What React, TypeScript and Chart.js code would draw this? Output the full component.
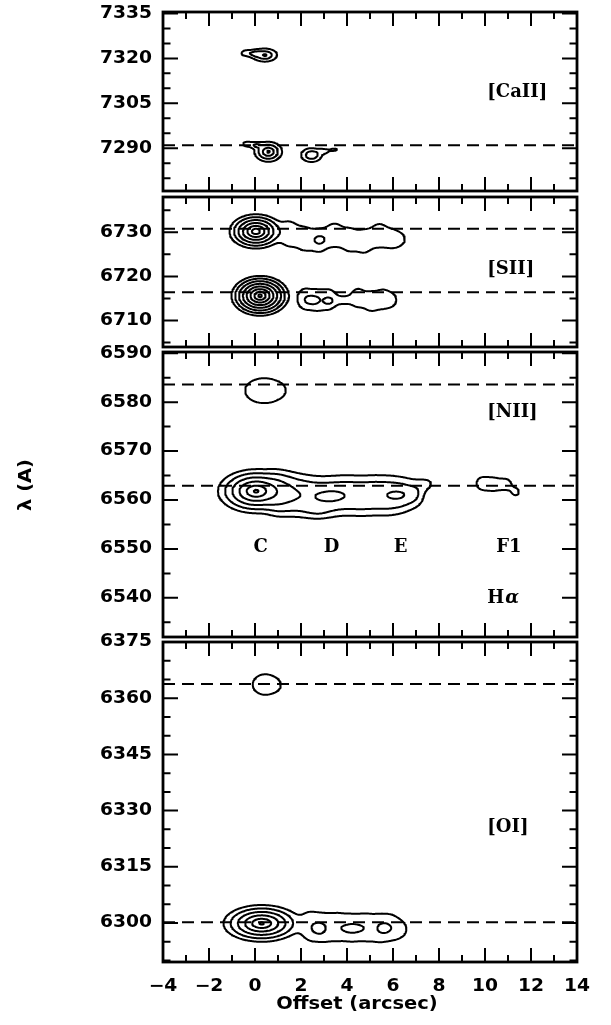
import React, { useEffect, useRef } from "react";
import { Chart, registerables } from "chart.js";
Chart.register(...registerables);

// ---------- data ----------
const xMin = -4;
const xMax = 14;
const xMajorTicks = [-4, -2, 0, 2, 4, 6, 8, 10, 12, 14];
const xTickText = ["−4", "−2", "0", "2", "4", "6", "8", "10", "12", "14"];
const xTitle = "Offset (arcsec)";
const xTitleAt = 4.43;
const yTitle = "λ (A)";

const panelYMin = [7275.7, 6704, 6532, 6289.6];
const panelYMax = [7335.5, 6738, 6590.25, 6375];
const panelYMajorStep = [15, 10, 10, 15];
const panelYMinorStep = [5, 5, 5, 5];
const panelRestLines = [[7291.0], [6730.8, 6716.4], [6583.6, 6562.9], [6363.8, 6300.2]];
const panelNames = ["[CaII]", "[SII]", "[NII]", "[OI]"];
const panelNameX = [10.1, 10.1, 10.1, 10.1];
const panelNameY = [7308.8, 6721.7, 6578.0, 6325.6];

const knotLabels = ["C", "D", "E", "F1"];
const knotLabelX = [0.25, 3.33, 6.33, 11.04];
const knotLabelY = 6550.3;
const haLabelX = 10.1;
const haLabelY = 6540;

const contourLevels = [1, 2, 4, 8, 16, 32, 64, 128];

// emission components: [xStart, xEnd, lambda, widthX, widthY, amplitude, profile exponent]
const caiiBlobs = [
  [-0.4, -0.4, 7321.8, 0.25, 1.1, 1.3, 2],
  [0.0, 0.0, 7321.6, 0.25, 1.1, 1.3, 2],
  [0.43, 0.43, 7321.1, 0.33, 1.35, 5, 1],
  [-0.35, -0.35, 7291.4, 0.25, 1.0, 1.4, 2],
  [0.05, 0.05, 7291.0, 0.25, 1.0, 1.4, 2],
  [0.58, 0.58, 7288.8, 0.26, 1.45, 10, 1],
  [2.46, 2.46, 7287.7, 0.45, 2.3, 2.7, 2],
  [3.0, 3.0, 7289.0, 0.25, 0.9, 1.3, 2],
  [3.45, 3.45, 7289.5, 0.25, 0.8, 1.2, 2],
];
const siiBlobs = [
  [0.04, 0.04, 6730.2, 0.28, 0.95, 60, 1],
  [1.5, 1.5, 6729.6, 0.42, 3.4, 1.55, 2],
  [2.15, 2.15, 6728.5, 0.42, 3.4, 1.55, 2],
  [2.8, 2.8, 6728.1, 0.42, 3.4, 1.55, 2],
  [3.45, 3.45, 6729.5, 0.42, 3.4, 1.55, 2],
  [4.1, 4.1, 6728.3, 0.42, 3.4, 1.55, 2],
  [4.75, 4.75, 6727.9, 0.42, 3.4, 1.55, 2],
  [5.4, 5.4, 6729.4, 0.42, 3.4, 1.55, 2],
  [6.0, 6.0, 6728.5, 0.42, 2.8, 1.5, 2],
  [6.35, 6.35, 6728.4, 0.3, 1.6, 0.9, 2],
  [2.83, 2.83, 6728.3, 0.3, 1.2, 0.5, 2],
  [0.22, 0.22, 6715.6, 0.24, 0.87, 180, 1],
  [2.15, 2.15, 6714.9, 0.38, 3.1, 1.5, 2],
  [2.7, 2.7, 6714.6, 0.38, 3.1, 1.5, 2],
  [3.25, 3.25, 6714.8, 0.38, 3.1, 1.5, 2],
  [3.85, 3.85, 6714.6, 0.38, 1.5, 1.1, 2],
  [4.45, 4.45, 6715.2, 0.38, 2.9, 1.5, 2],
  [5.05, 5.05, 6714.3, 0.38, 2.9, 1.5, 2],
  [5.6, 5.6, 6714.9, 0.38, 2.9, 1.5, 2],
  [6.0, 6.0, 6714.6, 0.3, 2.0, 1.0, 2],
  [2.45, 2.45, 6714.6, 0.3, 1.2, 0.65, 2],
  [3.2, 3.2, 6714.4, 0.22, 0.8, 0.7, 2],
];
const haNiiBlobs = [
  [0.4, 0.4, 6582.35, 1.3, 4.0, 1.5, 2],
  [1.0, 1.0, 6582.4, 0.3, 1.2, 0.4, 2],
  [0.05, 0.05, 6561.8, 0.45, 1.22, 40, 1],
  [1.0, 1.0, 6561.2, 0.5, 3.7, 2.35, 2],
  [1.6, 1.6, 6561.0, 0.5, 3.7, 2.35, 2],
  [2.2, 2.2, 6560.8, 0.5, 3.7, 2.35, 2],
  [2.8, 2.8, 6560.6, 0.5, 3.7, 2.35, 2],
  [3.4, 3.4, 6560.8, 0.5, 3.7, 2.35, 2],
  [4.0, 4.0, 6561.0, 0.5, 3.7, 2.35, 2],
  [4.6, 4.6, 6560.8, 0.5, 3.7, 2.35, 2],
  [5.2, 5.2, 6561.0, 0.5, 3.7, 2.35, 2],
  [5.8, 5.8, 6560.9, 0.5, 3.7, 2.35, 2],
  [6.4, 6.4, 6561.0, 0.5, 3.5, 2.2, 2],
  [7.0, 7.0, 6561.3, 0.45, 3.0, 1.6, 2],
  [7.5, 7.5, 6563.3, 0.4, 1.5, 1.0, 2],
  [2.7, 2.7, 6557.8, 0.6, 1.5, 0.6, 2],
  [3.3, 3.3, 6560.8, 0.63, 1.36, 1.3, 2],
  [6.25, 6.25, 6561.0, 0.55, 1.2, 1.3, 2],
  [9.85, 9.85, 6563.4, 0.4, 2.0, 1.3, 2],
  [10.4, 10.4, 6563.2, 0.4, 2.0, 1.3, 2],
  [10.95, 10.95, 6563.2, 0.35, 1.8, 1.2, 2],
  [11.35, 11.35, 6561.6, 0.25, 1.2, 1.2, 2],
];
const oiBlobs = [
  [0.45, 0.45, 6363.65, 0.86, 4.3, 1.5, 2],
  [0.9, 0.9, 6363.4, 0.25, 1.5, 0.4, 2],
  [0.29, 0.29, 6299.9, 0.45, 1.33, 40, 1],
  [2.4, 2.4, 6299.0, 0.45, 5.0, 1.3, 2],
  [3.0, 3.0, 6298.7, 0.45, 5.0, 1.3, 2],
  [3.6, 3.6, 6299.0, 0.45, 5.0, 1.3, 2],
  [4.2, 4.2, 6298.7, 0.45, 5.0, 1.3, 2],
  [4.8, 4.8, 6298.9, 0.45, 5.0, 1.3, 2],
  [5.4, 5.4, 6298.6, 0.45, 5.0, 1.3, 2],
  [5.95, 5.95, 6298.9, 0.45, 4.6, 1.3, 2],
  [6.4, 6.4, 6298.3, 0.4, 3.0, 1.0, 2],
  [2.79, 2.79, 6298.4, 0.25, 1.6, 0.7, 2],
  [4.24, 4.24, 6298.5, 0.5, 1.4, 0.7, 2],
  [5.6, 5.6, 6298.6, 0.25, 1.4, 0.7, 2],
];
const panelBlobs = [caiiBlobs, siiBlobs, haNiiBlobs, oiBlobs];

// ---------- layout ----------
const canvasTop = [0, 187, 342, 632];
const canvasH = [200, 170, 305, 393];
const padTop = [12, 10, 10, 10];
const padBottom = [9, 10, 10, 63];
const PAD_LEFT = 163;
const PAD_RIGHT = 611 - 577;

const SANS = '"DejaVu Sans", sans-serif';
const SERIF = '"DejaVu Serif", serif';

// ---------- contouring ----------
function fieldAt(comps: number[][], x: number, y: number) {
  let s = 0;
  for (const c of comps) {
    const [x1, x2, yc, sx, sy, amp, p] = c;
    const dx = x < x1 ? (x1 - x) / sx : x > x2 ? (x - x2) / sx : 0;
    const dy = (y - yc) / sy;
    const r2 = dx * dx + dy * dy;
    s += amp * Math.exp(p === 2 ? -r2 : p === 1 ? -Math.sqrt(r2) : -Math.pow(r2, p / 2));
  }
  return s;
}

function contourData(comps: number[][], ymin: number, ymax: number, nx: number, ny: number) {
  const W = nx + 1;
  const xs = new Float64Array(nx + 1);
  const ys = new Float64Array(ny + 1);
  for (let i = 0; i <= nx; i++) xs[i] = xMin + ((xMax - xMin) * i) / nx;
  for (let j = 0; j <= ny; j++) ys[j] = ymin + ((ymax - ymin) * j) / ny;
  const f = new Float64Array(W * (ny + 1));
  for (let j = 0; j <= ny; j++) for (let i = 0; i <= nx; i++) f[j * W + i] = fieldAt(comps, xs[i], ys[j]);

  const out: { x: number; y: number }[] = [];
  for (const L of contourLevels) {
    const segA: number[] = [];
    const segB: number[] = [];
    const pts = new Map<number, { x: number; y: number }>();
    const hPt = (i: number, j: number) => {
      const k = 2 * (j * W + i);
      if (!pts.has(k)) {
        const a = f[j * W + i], b = f[j * W + i + 1];
        const t = (L - a) / (b - a);
        pts.set(k, { x: xs[i] + t * (xs[i + 1] - xs[i]), y: ys[j] });
      }
      return k;
    };
    const vPt = (i: number, j: number) => {
      const k = 2 * (j * W + i) + 1;
      if (!pts.has(k)) {
        const a = f[j * W + i], b = f[(j + 1) * W + i];
        const t = (L - a) / (b - a);
        pts.set(k, { x: xs[i], y: ys[j] + t * (ys[j + 1] - ys[j]) });
      }
      return k;
    };
    for (let j = 0; j < ny; j++) {
      for (let i = 0; i < nx; i++) {
        const a = f[j * W + i], b = f[j * W + i + 1], c = f[(j + 1) * W + i + 1], d = f[(j + 1) * W + i];
        const A = a > L, B = b > L, C = c > L, D = d > L;
        if (A === B && B === C && C === D) continue;
        const bottom = () => hPt(i, j), right = () => vPt(i + 1, j), top = () => hPt(i, j + 1), left = () => vPt(i, j);
        const crossB = A !== B, crossR = B !== C, crossT = D !== C, crossL = A !== D;
        if (crossB && crossR && crossT && crossL) {
          const center = (a + b + c + d) / 4 > L;
          if (center === A) {
            segA.push(bottom()); segB.push(right());
            segA.push(top()); segB.push(left());
          } else {
            segA.push(left()); segB.push(bottom());
            segA.push(right()); segB.push(top());
          }
          continue;
        }
        const e: (() => number)[] = [];
        if (crossB) e.push(bottom);
        if (crossR) e.push(right);
        if (crossT) e.push(top);
        if (crossL) e.push(left);
        if (e.length === 2) { segA.push(e[0]()); segB.push(e[1]()); }
      }
    }
    const adj = new Map<number, number[]>();
    for (let s = 0; s < segA.length; s++) {
      for (const k of [segA[s], segB[s]]) {
        const l = adj.get(k);
        if (l) l.push(s); else adj.set(k, [s]);
      }
    }
    const used = new Uint8Array(segA.length);
    const walk = (startSeg: number, fromKey: number) => {
      const chain: number[] = [];
      let key = fromKey;
      let seg = startSeg;
      while (true) {
        const l = adj.get(key) || [];
        let next = -1;
        for (const s of l) if (s !== seg && !used[s]) { next = s; break; }
        if (next < 0) break;
        used[next] = 1;
        key = segA[next] === key ? segB[next] : segA[next];
        chain.push(key);
        seg = next;
      }
      return chain;
    };
    for (let s = 0; s < segA.length; s++) {
      if (used[s]) continue;
      used[s] = 1;
      const fwd = walk(s, segB[s]);
      const bwd = walk(s, segA[s]);
      const keys = [...bwd.reverse(), segA[s], segB[s], ...fwd];
      for (const k of keys) out.push(pts.get(k)!);
      out.push({ x: NaN, y: NaN });
    }
  }
  return out;
}

// ---------- drawing helpers ----------
function stretchText(ctx: CanvasRenderingContext2D, text: string, x: number, y: number, align: CanvasTextAlign, sx: number) {
  ctx.save();
  ctx.translate(x, y);
  ctx.scale(sx, 1);
  ctx.textAlign = align;
  ctx.fillText(text, 0, 0);
  ctx.restore();
}

function makeFramePlugin(pi: number) {
  return {
    id: "frame" + pi,
    afterDatasetsDraw(chart: any) {
      const ctx: CanvasRenderingContext2D = chart.ctx;
      const xs = chart.scales.x;
      const ys = chart.scales.y;
      const { left, right, top, bottom } = chart.chartArea;
      ctx.save();
      ctx.strokeStyle = "#000";
      ctx.fillStyle = "#000";
      ctx.lineCap = "butt";
      ctx.lineWidth = 2;
      ctx.beginPath();
      for (let v = Math.ceil(xMin); v <= xMax; v += 1) {
        const px = xs.getPixelForValue(v);
        const len = v % 2 === 0 ? 14 : 7;
        ctx.moveTo(px, bottom); ctx.lineTo(px, bottom - len);
        ctx.moveTo(px, top); ctx.lineTo(px, top + len);
      }
      const ymin = panelYMin[pi], ymax = panelYMax[pi];
      const minor = panelYMinorStep[pi], major = panelYMajorStep[pi];
      for (let v = Math.ceil(ymin / minor) * minor; v <= ymax + 1e-6; v += minor) {
        const py = ys.getPixelForValue(v);
        const len = Math.abs(v / major - Math.round(v / major)) < 1e-6 ? 15 : 7.5;
        ctx.moveTo(left, py); ctx.lineTo(left + len, py);
        ctx.moveTo(right, py); ctx.lineTo(right - len, py);
      }
      ctx.stroke();
      ctx.lineWidth = 2.8;
      ctx.strokeRect(left, top, right - left, bottom - top);
      ctx.font = "bold 17px " + SANS;
      ctx.textBaseline = "middle";
      for (let v = Math.ceil(ymin / major) * major; v <= ymax + 1e-6; v += major) {
        stretchText(ctx, String(v), left - 11, ys.getPixelForValue(v), "right", 1.1);
      }
      ctx.font = "bold 18px " + SERIF;
      ctx.textAlign = "left";
      ctx.fillText(panelNames[pi], xs.getPixelForValue(panelNameX[pi]), ys.getPixelForValue(panelNameY[pi]));
      if (pi === 2) {
        ctx.textAlign = "center";
        knotLabels.forEach((t, k) => ctx.fillText(t, xs.getPixelForValue(knotLabelX[k]), ys.getPixelForValue(knotLabelY)));
        const hx = xs.getPixelForValue(haLabelX);
        const hy = ys.getPixelForValue(haLabelY);
        ctx.textAlign = "left";
        ctx.fillText("H", hx, hy);
        const hw = ctx.measureText("H").width;
        ctx.font = "italic bold 18px " + SERIF;
        ctx.fillText("α", hx + hw + 1, hy);
        ctx.save();
        ctx.font = "bold 18px " + SANS;
        ctx.translate(26, 485 - canvasTop[2]);
        ctx.rotate(-Math.PI / 2);
        ctx.scale(1.08, 1);
        ctx.textAlign = "center";
        ctx.fillText(yTitle, 0, 0);
        ctx.restore();
      }
      if (pi === 3) {
        ctx.font = "bold 17px " + SANS;
        xMajorTicks.forEach((v, k) => stretchText(ctx, xTickText[k], xs.getPixelForValue(v), bottom + 25, "center", 1.1));
        ctx.font = "bold 18px " + SANS;
        stretchText(ctx, xTitle, xs.getPixelForValue(xTitleAt), bottom + 42, "center", 1.08);
      }
      ctx.restore();
    },
  };
}

function makeConfig(pi: number) {
  const ymin = panelYMin[pi], ymax = panelYMax[pi];
  const plotH = canvasH[pi] - padTop[pi] - padBottom[pi];
  const contour = contourData(panelBlobs[pi], ymin, ymax, 450, Math.round(plotH));
  const datasets: any[] = panelRestLines[pi].map((w) => ({
    data: [{ x: xMin, y: w }, { x: xMax, y: w }],
    showLine: true,
    borderColor: "#000",
    borderWidth: 2,
    borderDash: [12, 7],
    pointRadius: 0,
  }));
  datasets.push({
    data: contour,
    showLine: true,
    borderColor: "#000",
    borderWidth: 2,
    pointRadius: 0,
    pointHoverRadius: 0,
    spanGaps: false,
    borderJoinStyle: "round",
    borderCapStyle: "round",
  });
  return {
    type: "scatter" as const,
    data: { datasets },
    options: {
      responsive: false,
      animation: false as const,
      events: [],
      layout: { padding: { left: PAD_LEFT, right: PAD_RIGHT, top: padTop[pi], bottom: padBottom[pi] } },
      plugins: { legend: { display: false }, tooltip: { enabled: false } },
      scales: {
        x: { type: "linear" as const, min: xMin, max: xMax, display: false },
        y: { type: "linear" as const, min: ymin, max: ymax, display: false },
      },
    },
    plugins: [makeFramePlugin(pi)],
  };
}

export default function App() {
  const refs = useRef<(HTMLCanvasElement | null)[]>([]);
  useEffect(() => {
    const charts = [0, 1, 2, 3].map((pi) => new Chart(refs.current[pi] as HTMLCanvasElement, makeConfig(pi) as any));
    return () => charts.forEach((c) => c.destroy());
  }, []);
  return (
    <div style={{ position: "absolute", left: 0, top: 0, width: 611, height: 1025, background: "#fff" }}>
      {[0, 1, 2, 3].map((pi) => (
        <canvas
          key={pi}
          ref={(el) => { refs.current[pi] = el; }}
          width={611}
          height={canvasH[pi]}
          style={{ position: "absolute", left: 0, top: canvasTop[pi], width: 611, height: canvasH[pi] }}
        />
      ))}
    </div>
  );
}
